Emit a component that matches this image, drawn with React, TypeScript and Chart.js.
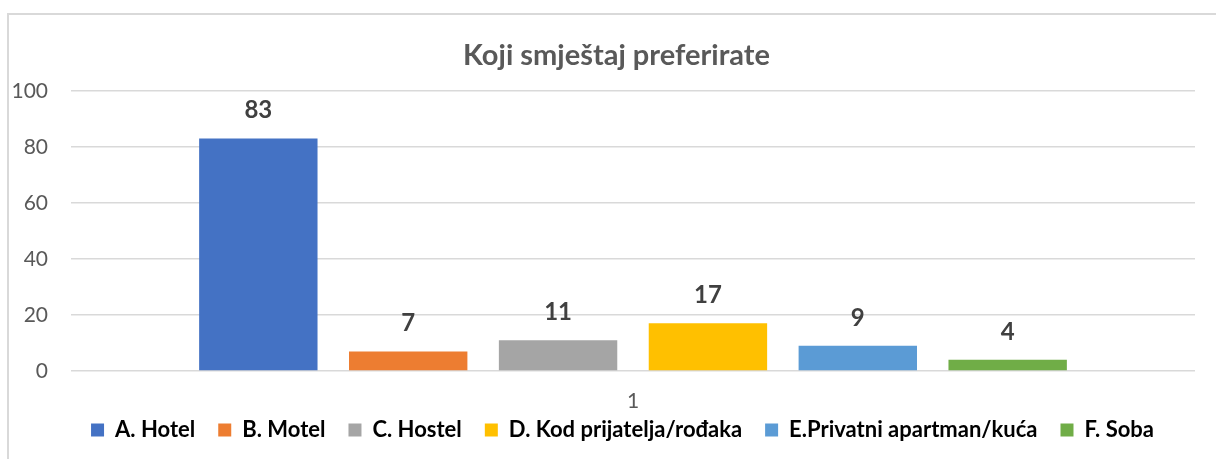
import React, { useEffect, useRef } from "react";
import { Chart, registerables } from "chart.js";

Chart.register(...registerables);

const categories = ["1"];
const seriesLabels = [
  "A. Hotel",
  "B. Motel",
  "C. Hostel",
  "D. Kod prijatelja/rođaka",
  "E.Privatni apartman/kuća",
  "F. Soba",
];
const seriesValues = [83, 7, 11, 17, 9, 4];
const seriesColors = ["#4472C4", "#ED7D31", "#A5A5A5", "#FFC000", "#5B9BD5", "#70AD47"];
const titleText = "Koji smještaj preferirate";
const yMin = 0;
const yMax = 100;
const yStep = 20;

const FONT = "Lato, 'Open Sans', sans-serif";

const dataLabelPlugin = {
  id: "dataLabels",
  afterDatasetsDraw(chart: any) {
    const ctx = chart.ctx;
    ctx.save();
    ctx.font = `bold 24px ${FONT}`;
    ctx.fillStyle = "#404040";
    ctx.textAlign = "center";
    ctx.textBaseline = "middle";
    chart.data.datasets.forEach((ds: any, i: number) => {
      const meta = chart.getDatasetMeta(i);
      meta.data.forEach((bar: any, j: number) => {
        ctx.fillText(String(ds.data[j]), bar.x, bar.y - 28);
      });
    });
    ctx.restore();
  },
};

const LEGEND_SHIFT_X = 25;
const TITLE_SHIFT_X = 19;
const legendLayoutPlugin = {
  id: "legendLayout",
  beforeInit(chart: any) {
    const legend = chart.legend;
    if (!legend) return;
    const origFit = legend.fit;
    legend.fit = function () {
      origFit.call(this);
      this.height = 48;
    };
  },
  afterLayout(chart: any) {
    const legend = chart.legend;
    if (legend) {
      legend.top = 396;
      legend.bottom = chart.height;
      legend.left += LEGEND_SHIFT_X;
      legend.right += LEGEND_SHIFT_X;
    }
    const title = chart.titleBlock;
    if (title) {
      title.left += TITLE_SHIFT_X;
      title.right += TITLE_SHIFT_X;
    }
  },
};

export default function App() {
  const canvasRef = useRef<HTMLCanvasElement | null>(null);

  useEffect(() => {
    if (!canvasRef.current) return;
    const chart = new Chart(canvasRef.current, {
      type: "bar",
      data: {
        labels: categories,
        datasets: seriesLabels.map((label, i) => ({
          label,
          data: [seriesValues[i]],
          backgroundColor: seriesColors[i],
          borderWidth: 0,
          categoryPercentage: 0.8,
          barPercentage: 0.79,
        })),
      },
      options: {
        animation: false,
        responsive: false,
        maintainAspectRatio: false,
        layout: { padding: { left: 0, right: 21, top: 0, bottom: 0 } },
        plugins: {
          title: {
            display: true,
            text: titleText,
            color: "#595959",
            font: { family: FONT, size: 29, weight: "bold", lineHeight: 1.2 },
            padding: { top: 38, bottom: 18 },
          },
          legend: {
            display: true,
            position: "bottom",
            labels: {
              boxWidth: 13,
              boxHeight: 13,
              padding: 23,
              color: "#000000",
              font: { family: FONT, size: 22, weight: "bold" },
            },
          },
          tooltip: { enabled: false },
        },
        scales: {
          x: {
            grid: { display: false, drawTicks: false },
            border: { display: false },
            ticks: {
              color: "#595959",
              font: { family: FONT, size: 21 },
              padding: 18,
            },
            afterFit(scale: any) {
              scale.height = 40;
            },
          },
          y: {
            min: yMin,
            max: yMax,
            grid: { color: "#D9D9D9", lineWidth: 1.5, drawTicks: false },
            border: { display: false },
            ticks: {
              stepSize: yStep,
              color: "#595959",
              font: { family: FONT, size: 21 },
              padding: 23,
            },
            afterFit(scale: any) {
              scale.width = 71;
            },
          },
        },
      },
      plugins: [dataLabelPlugin, legendLayoutPlugin],
    });
    return () => chart.destroy();
  }, []);

  return (
    <div
      style={{
        position: "fixed",
        left: 0,
        top: 0,
        width: 1216,
        height: 459,
        overflow: "hidden",
        background: "#ffffff",
      }}
    >
      <div
        style={{
          position: "absolute",
          left: 7,
          top: 13,
          width: 1230,
          height: 470,
          border: "2px solid #D9D9D9",
          boxSizing: "border-box",
        }}
      />
      <canvas
        ref={canvasRef}
        width={1216}
        height={459}
        style={{ position: "absolute", left: 0, top: 0, width: 1216, height: 459 }}
      />
    </div>
  );
}
